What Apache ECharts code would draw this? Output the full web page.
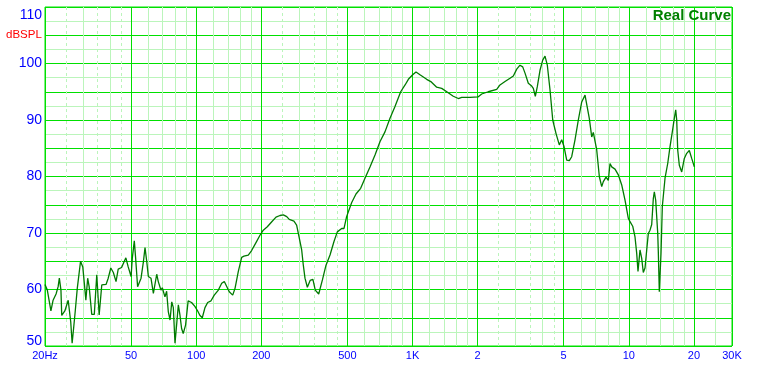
<!DOCTYPE html>
<html>
<head>
<meta charset="utf-8">
<script src="https://cdn.jsdelivr.net/npm/echarts@6/dist/echarts.min.js"></script>
<style>
html,body{margin:0;padding:0;background:#fff;}
#chart{width:763px;height:374px;}
</style>
</head>
<body>
<div id="chart"></div>
<script>
// Frequency (Hz) and SPL (dB)
var freqs = [20,20.5,21.3,21.8,22.5,23.0,23.3,23.7,23.9,24.7,25.6,25.9,26.3,26.7,27.1,27.6,28.2,29.2,29.9,30.4,30.9,31.5,32.0,32.9,33.8,34.7,35.6,36.6,37.2,38.3,39.2,40.3,41.4,42.6,43.6,45.2,46.0,47.3,48.5,50.0,50.65,51.75,52.5,53.6,55.6,57.0,58.0,59.1,60.1,61.8,63.4,65.7,66.8,68.7,69.7,71.7,73.0,74.3,75.7,77.1,78.4,79.8,81.3,82.7,84.1,85.6,87.1,89.3,91.8,95.2,98.6,101.6,104.1,106.7,109.8,113.0,117.1,121.2,126.6,131.2,134.9,137.3,142.2,147.5,151.2,156.6,162.3,166.3,174.1,180.4,189.0,197.2,204.3,213.2,223.6,233.9,244.0,252.8,262.2,269.3,283.1,291.3,299.7,307.4,312.8,318.4,326.5,336.3,346.4,355.2,368.5,383.3,398.3,415.6,433.6,449.2,470.7,482.4,496,523.6,548,576,603,636,671,708,746,787,830,882,924,957,1002,1038,1083,1163,1215,1294,1365,1440,1544,1629,1689,1845,2015,2089,2240,2451,2538,2677,2824,2925,3033,3141,3233,3313,3431,3558,3619,3697,3776,3886,4000,4099,4201,4323,4450,4609,4773,4897,5018,5164,5308,5445,5641,5843,6059,6275,6389,6568,6618,6739,6854,6980,7107,7307,7496,7625,7847,8041,8188,8338,8636,8945,9274,9606,9949,10130,10425,10684,10878,11029,11267,11473,11670,11884,12101,12309,12533,12762,12982,13124,13317,13608,13691,13838,14091,14288,14705,15133,15508,15892,16234,16478,16654,16833,17122,17565,18058,18524,19044,19537,20088];
var spl = [60.9,59.9,56.2,58.1,59.2,60.5,62.0,59.9,55.4,56.2,58.1,58.4,54.3,50.5,53.0,56.2,60.2,65.0,64.0,61.1,58.1,62.0,60.5,55.6,55.6,62.6,55.5,60.8,60.8,60.9,62.0,63.8,63.0,61.4,63.6,63.9,64.2,65.6,64.0,62.3,65.5,68.6,65.5,60.5,62.0,64.9,67.4,64.9,62.3,62.0,59.3,62.7,61.4,59.9,60.3,58.7,59.7,56.1,54.6,57.8,56.8,50.5,54.0,57.3,55.5,53.1,52.2,53.7,58.0,57.7,57.0,56.2,55.4,55.0,56.8,57.7,58.0,59.0,59.9,61.1,61.4,61.1,59.6,59.0,60.2,63.2,65.7,65.9,66.1,66.9,68.3,69.6,70.5,71.1,72.0,72.8,73.1,73.2,72.9,72.4,72.1,71.4,69.1,67.0,64.3,62.0,60.4,61.6,61.8,59.9,59.2,61.7,64.3,66.1,68.5,70.2,70.8,70.8,72.9,75.4,76.9,77.9,79.7,81.7,83.8,86.2,87.9,90.3,92.4,95.0,96.2,97.2,98.0,98.5,98.0,97.2,96.8,95.8,95.6,95.0,94.2,93.8,94.0,94.0,94.1,94.6,95.0,95.4,96.2,96.8,97.4,97.8,99.0,99.7,99.4,98.3,96.5,96.0,95.6,94.2,95.9,98.8,100.6,101.3,99.7,95.3,90.0,87.6,85.6,86.5,85.3,82.9,82.8,83.5,86.5,90.0,93.2,94.4,94.1,90.3,90.0,87.0,87.8,87.6,84.7,80.0,78.2,79.1,79.9,79.3,82.3,81.7,81.3,80.3,78.5,75.8,72.6,72.0,71.2,69.3,66.4,63.2,67.0,65.5,63.0,63.8,67.0,69.9,70.5,71.5,76.1,77.3,75.8,69.9,66.7,59.6,66.4,74.7,79.7,82.3,85.3,87.9,90.3,91.8,90.0,84.7,82.0,80.8,83.2,84.1,84.6,83.2,81.7];

// X tick labels (at the bright grid lines)
var xTickFreqs = [20,50,100,200,500,1000,2000,5000,10000,20000,30000];
var xTickLabels = ['20Hz','50','100','200','500','1K','2','5','10','20','30K'];
// light solid and dashed vertical grid lines
var minorFreqs = [30,40,60,70,80,90,120,140,160,180,300,400,600,700,800,900,1200,1400,1600,1800,3000,4000,6000,7000,8000,9000,12000,14000,16000,18000,25000];
var dashedFreqs = [25,35,45,250,350,450,2500,3500,4500];
// Y axis range and step
var yMin = 50, yMax = 110, yStep = 5;

var BRIGHT = '#00e000', LIGHT = '#bbf5bb', BLUE = '#0000ff', FONT = 'Liberation Sans, Arial, sans-serif';

var points = freqs.map(function(f, i){ return [f, spl[i]]; });

var majorLines = xTickFreqs.map(function(f, i){ return {xAxis: f, name: xTickLabels[i]}; });
var minorLines = minorFreqs.map(function(f){ return {xAxis: f}; });
var dashLines = dashedFreqs.map(function(f){ return {xAxis: f}; });

var chart = echarts.init(document.getElementById('chart'), null, {renderer: 'canvas'});
chart.setOption({
  animation: false,
  backgroundColor: '#ffffff',
  title: {
    text: 'Real Curve', right: 32, top: 8, padding: 0,
    textStyle: {color: '#008000', fontWeight: 'bold', fontSize: 15, fontFamily: FONT}
  },
  graphic: [{
    type: 'text', left: 6, top: 29,
    style: {text: 'dBSPL', fill: '#ff0000', font: '11.5px ' + FONT}
  }],
  grid: {left: 45, right: 31, top: 7, bottom: 28, show: true, borderColor: BRIGHT, borderWidth: 1, containLabel: false},
  xAxis: {
    type: 'log', logBase: 10, min: 20, max: 30000,
    axisLine: {show: false}, axisTick: {show: false}, axisLabel: {show: false},
    splitLine: {show: false}, minorSplitLine: {show: false}
  },
  yAxis: {
    type: 'value', min: yMin, max: yMax, interval: yStep,
    axisLine: {show: false}, axisTick: {show: false},
    splitLine: {show: true, lineStyle: {color: BRIGHT, width: 1}},
    minorTick: {show: false, splitNumber: 2},
    minorSplitLine: {show: true, lineStyle: {color: LIGHT, width: 1}},
    axisLabel: {
      color: BLUE, fontSize: 14, fontFamily: FONT, margin: 3,
      formatter: function(v){
        if (v % 10 !== 0) return '';
        if (v === yMax) return '{t|' + v + '}';
        if (v === yMin) return '{b|' + v + '}';
        return String(v);
      },
      rich: {
        t: {color: BLUE, fontSize: 14, fontFamily: FONT, padding: [16, 0, 0, 0]},
        b: {color: BLUE, fontSize: 14, fontFamily: FONT, padding: [0, 0, 10, 0]}
      }
    }
  },
  series: [
    {
      type: 'line', data: [[20, yMin]], symbol: 'none', lineStyle: {opacity: 0}, z: 1, silent: true,
      markLine: {
        silent: true, symbol: 'none', z: 1, animation: false,
        data: minorLines,
        lineStyle: {color: LIGHT, width: 1, type: 'solid'},
        label: {show: false}
      }
    },
    {
      type: 'line', data: [[20, yMin]], symbol: 'none', lineStyle: {opacity: 0}, z: 1, silent: true,
      markLine: {
        silent: true, symbol: 'none', z: 1, animation: false,
        data: dashLines,
        lineStyle: {color: LIGHT, width: 1, type: [3, 3]},
        label: {show: false}
      }
    },
    {
      type: 'line', data: [[20, yMin]], symbol: 'none', lineStyle: {opacity: 0}, z: 2, silent: true,
      markLine: {
        silent: true, symbol: 'none', z: 2, animation: false,
        data: majorLines,
        lineStyle: {color: BRIGHT, width: 1, type: 'solid'},
        label: {show: true, position: 'start', distance: 4, formatter: '{b}', color: BLUE, fontSize: 11, fontFamily: FONT}
      }
    },
    {
      type: 'line', data: points, symbol: 'none', showSymbol: false, z: 10,
      lineStyle: {color: '#007a00', width: 1.3}
    }
  ]
});
</script>
</body>
</html>
